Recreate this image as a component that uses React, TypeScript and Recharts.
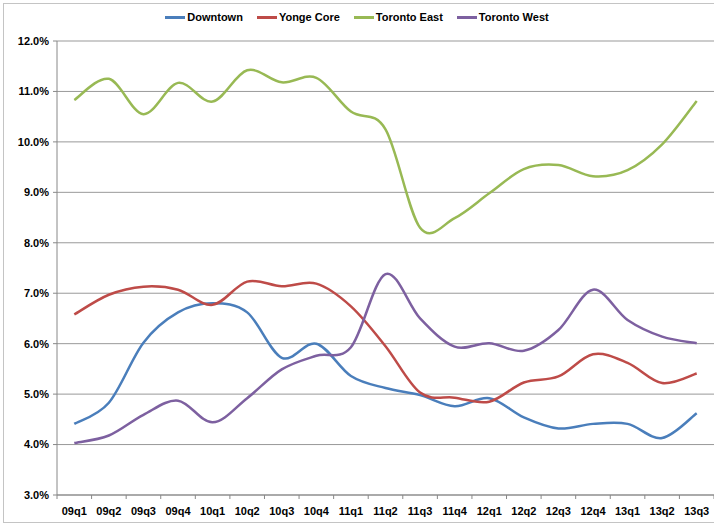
import React from 'react';
import { LineChart, Line, XAxis, YAxis, CartesianGrid } from 'recharts';

const quarters = [
  '09q1', '09q2', '09q3', '09q4', '10q1', '10q2', '10q3', '10q4', '11q1', '11q2',
  '11q3', '11q4', '12q1', '12q2', '12q3', '12q4', '13q1', '13q2', '13q3',
];

const downtown = [4.41, 4.83, 6.02, 6.62, 6.8, 6.62, 5.72, 6.0, 5.36, 5.12, 4.98, 4.76, 4.92, 4.54, 4.32, 4.41, 4.41, 4.13, 4.62];
const yongeCore = [6.58, 6.97, 7.13, 7.07, 6.77, 7.23, 7.14, 7.19, 6.74, 5.95, 5.03, 4.93, 4.85, 5.23, 5.35, 5.79, 5.62, 5.22, 5.41];
const torontoEast = [10.83, 11.25, 10.55, 11.17, 10.8, 11.42, 11.18, 11.27, 10.6, 10.25, 8.3, 8.49, 8.98, 9.46, 9.54, 9.32, 9.44, 9.95, 10.81];
const torontoWest = [4.03, 4.18, 4.59, 4.87, 4.44, 4.92, 5.49, 5.76, 5.93, 7.38, 6.5, 5.94, 6.01, 5.86, 6.27, 7.07, 6.47, 6.14, 6.01];

const yTicks = [3, 4, 5, 6, 7, 8, 9, 10, 11, 12];

const series = [
  { key: 'downtown', name: 'Downtown', color: '#4a7ebb', values: downtown },
  { key: 'yonge', name: 'Yonge Core', color: '#be4b48', values: yongeCore },
  { key: 'east', name: 'Toronto East', color: '#98b954', values: torontoEast },
  { key: 'west', name: 'Toronto West', color: '#7d60a0', values: torontoWest },
];

const data = quarters.map((q, i) => {
  const row: Record<string, string | number> = { q };
  series.forEach((s) => {
    row[s.key] = s.values[i];
  });
  return row;
});

const W = 714;
const H = 523;
const PLOT_LEFT = 57;
const PLOT_TOP = 41;
const PLOT_BOTTOM = 495;
const BAND = (W - PLOT_LEFT) / quarters.length;
const FONT = '"Liberation Sans", Arial, sans-serif';

// Excel style smoothing (Catmull-Rom through every point)
const smooth = (context: any) => {
  let pts: number[][] = [];
  return {
    areaStart() {},
    areaEnd() {},
    lineStart() {
      pts = [];
    },
    point(x: number, y: number) {
      pts.push([+x, +y]);
    },
    lineEnd() {
      if (!pts.length) return;
      context.moveTo(pts[0][0], pts[0][1]);
      for (let i = 0; i < pts.length - 1; i++) {
        const p0 = pts[i - 1] || pts[i];
        const p1 = pts[i];
        const p2 = pts[i + 1];
        const p3 = pts[i + 2] || p2;
        context.bezierCurveTo(
          p1[0] + (p2[0] - p0[0]) / 6,
          p1[1] + (p2[1] - p0[1]) / 6,
          p2[0] - (p3[0] - p1[0]) / 6,
          p2[1] - (p3[1] - p1[1]) / 6,
          p2[0],
          p2[1]
        );
      }
    },
  };
};

const QuarterTick = (props: any) => {
  const { x, payload, index } = props;
  const left = x - BAND / 2;
  return (
    <g>
      <line x1={left} y1={PLOT_BOTTOM} x2={left} y2={PLOT_BOTTOM + 4} stroke="#888" />
      {index === quarters.length - 1 && (
        <line x1={left + BAND} y1={PLOT_BOTTOM} x2={left + BAND} y2={PLOT_BOTTOM + 4} stroke="#888" />
      )}
      <text x={x} y={PLOT_BOTTOM + 20} textAnchor="middle" fontFamily={FONT} fontSize={11} fontWeight="bold" fill="#000">
        {payload.value}
      </text>
    </g>
  );
};

const LegendRow = () => (
  <div
    style={{
      position: 'absolute',
      top: 11,
      left: 0,
      width: W,
      display: 'flex',
      justifyContent: 'center',
      fontFamily: FONT,
      fontSize: 11,
      fontWeight: 'bold',
      color: '#000',
    }}
  >
    {series.map((s) => (
      <div key={s.key} style={{ display: 'flex', alignItems: 'center', margin: '0 7px' }}>
        <div style={{ width: 20, height: 3, background: s.color, marginRight: 2 }} />
        <span>{s.name}</span>
      </div>
    ))}
  </div>
);

export default function App() {
  return (
    <div style={{ position: 'absolute', left: 0, top: 0, width: W, height: H, background: '#fff', overflow: 'hidden' }}>
      <div
        style={{
          position: 'absolute',
          left: 3,
          top: 3,
          width: W,
          height: 518,
          borderLeft: '1.5px solid #c4c4c4',
          borderTop: '1.5px solid #c4c4c4',
          borderBottom: '1.5px solid #c4c4c4',
        }}
      />
      <LegendRow />
      <LineChart
        width={W}
        height={H}
        data={data}
        margin={{ top: PLOT_TOP, right: 0, left: 0, bottom: 0 }}
        style={{ position: 'absolute', left: 0, top: 0 }}
      >
        <CartesianGrid horizontal vertical={false} stroke="#999" />
        <XAxis
          dataKey="q"
          height={H - PLOT_BOTTOM}
          interval={0}
          padding={{ left: BAND / 2, right: BAND / 2 }}
          tickLine={false}
          axisLine={{ stroke: '#888' }}
          tick={<QuarterTick />}
        />
        <YAxis
          width={PLOT_LEFT}
          domain={[3, 12]}
          ticks={yTicks}
          tickSize={4}
          tickMargin={4}
          axisLine={{ stroke: '#888' }}
          tickLine={{ stroke: '#888' }}
          tickFormatter={(v: number) => `${v.toFixed(1)}%`}
          tick={{ fontFamily: FONT, fontSize: 11, fontWeight: 'bold', fill: '#000' }}
        />
        {series.map((s) => (
          <Line
            key={s.key}
            dataKey={s.key}
            name={s.name}
            type={smooth as any}
            stroke={s.color}
            strokeWidth={2.5}
            dot={false}
            isAnimationActive={false}
          />
        ))}
      </LineChart>
    </div>
  );
}
